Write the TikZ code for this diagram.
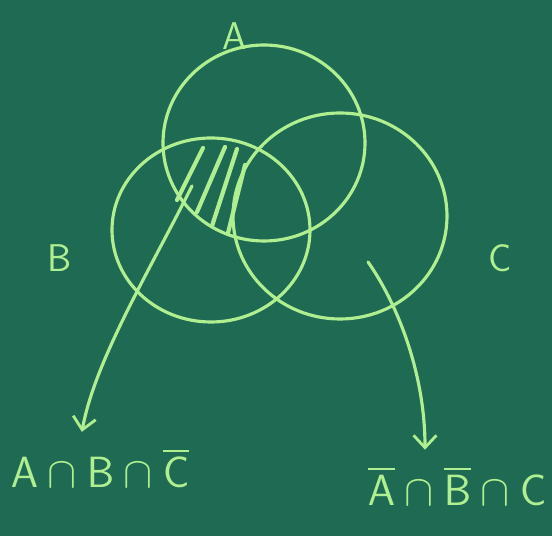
\documentclass[tikz,border=0pt]{standalone}
\usepackage{amsmath}
\usepackage{xcolor}
\usetikzlibrary{arrows.meta,positioning}
\definecolor{board}{RGB}{30,106,82}
\definecolor{chalk}{RGB}{176,238,146}
\begin{document}
\begin{tikzpicture}[
    x=0.02cm, y=-0.02cm,
    chalkline/.style={draw=chalk, line width=1.8pt, line cap=round},
    hatch/.style={chalkline, line width=2.4pt},
    setlabel/.style={text=chalk, font=\sffamily\fontsize{22}{24}\selectfont},
    reslabel/.style={text=chalk, font=\fontsize{26}{30}\selectfont},
    arr/.style={chalkline, shorten >=6pt, -{Straight Barb[length=7pt,width=13pt,line width=1.6pt]}}
  ]
    \fill[board] (0,0) rectangle (552,536);
    \useasboundingbox (0,0) rectangle (552,536);

    % the three sets
    \coordinate (cA) at (264,143);
    \coordinate (cB) at (211,230);
    \coordinate (cC) at (340,216);
    \draw[chalkline] (cA) circle[x radius=101, y radius=98];
    \draw[chalkline] (cB) circle[x radius=99, y radius=92];
    \draw[chalkline] (cC) circle[x radius=107, y radius=103];

    \node[setlabel] (labA) at (235,36) {A};
    \node[setlabel] (labB) at (60,258) {B};
    \node[setlabel] (labC) at (500,258) {C};

    % shading of A and B without C
    \draw[hatch] (203,148) -- (177,200);
    \draw[hatch] (225,147) -- (197,212);
    \draw[hatch] (237,149) -- (212,226);
    \draw[hatch] (245,165) -- (228,233);

    % results
    \node[reslabel] (resL) at (100,468)
      {$\mathsf{A}\cap\mathsf{B}\cap\overline{\mathsf{C}}$};
    \node[reslabel] (resR) at (457,486)
      {$\overline{\mathsf{A}}\cap\overline{\mathsf{B}}\cap\mathsf{C}$};

    \coordinate (fromL) at (192,186);
    \coordinate (fromR) at (368,262);
    \draw[arr] (fromL) .. controls (150,270) and (95,360) .. (resL.north -| 80,0);
    \draw[arr] (fromR) .. controls (395,300) and (425,370) .. (resR.north -| 425,0);
  \end{tikzpicture}
\end{document}
